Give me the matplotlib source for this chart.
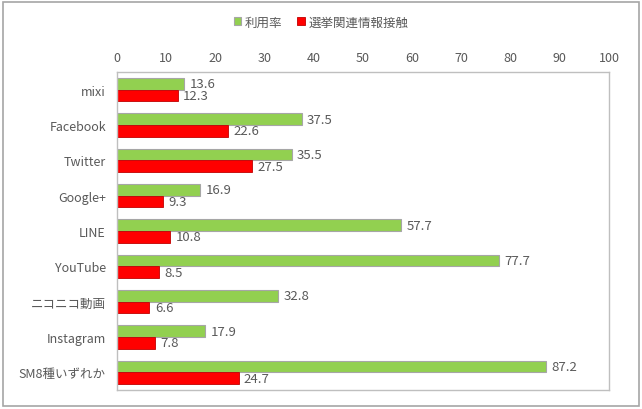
import matplotlib.pyplot as plt
import numpy as np
from matplotlib.patches import Rectangle

plt.rcParams['font.family'] = ['Noto Sans CJK JP', 'DejaVu Sans']

categories = ["mixi", "Facebook", "Twitter", "Google+", "LINE", "YouTube",
              "ニコニコ動画", "Instagram", "SM8種いずれか"]
usage_rate = [13.6, 37.5, 35.5, 16.9, 57.7, 77.7, 32.8, 17.9, 87.2]
election_contact = [12.3, 22.6, 27.5, 9.3, 10.8, 8.5, 6.6, 7.8, 24.7]
series_labels = ["利用率", "選挙関連情報接触"]

GREEN = "#92D050"
RED = "#FF0000"
TEXT = "#595959"
FRAME = "#BFBFBF"

fig = plt.figure(figsize=(6.42, 4.10), dpi=100)
ax = fig.add_axes([117 / 642, 1 - 391 / 410, (609 - 117) / 642, (391 - 73) / 410])

y = np.arange(len(categories))
h = 0.33
bars_g = ax.barh(y - h / 2, usage_rate, height=h, color=GREEN,
                 edgecolor="#A6A6A6", linewidth=0.8, label=series_labels[0])
bars_r = ax.barh(y + h / 2, election_contact, height=h, color=RED,
                 edgecolor="#C00000", linewidth=0.6, label=series_labels[1])

for bars, vals in ((bars_g, usage_rate), (bars_r, election_contact)):
    for b, v in zip(bars, vals):
        ax.text(v + 1.1, b.get_y() + b.get_height() / 2, f"{v:.1f}",
                va="center", ha="left", fontsize=9.5, color=TEXT)

ax.set_xlim(0, 100)
ax.set_xticks(np.arange(0, 101, 10))
ax.set_ylim(len(categories) - 0.5, -0.5)
ax.set_yticks(y)
ax.set_yticklabels(categories)
ax.xaxis.tick_top()
ax.tick_params(axis="x", length=0, pad=6, labelsize=9, labelcolor=TEXT)
ax.tick_params(axis="y", length=0, pad=8, labelsize=9, labelcolor=TEXT)
for s in ax.spines.values():
    s.set_color(FRAME)
    s.set_linewidth(1.0)

fig.legend(handles=[bars_g, bars_r], labels=series_labels, loc="center",
           bbox_to_anchor=(0.5, 1 - 23 / 410), ncol=2, frameon=False,
           fontsize=9, labelcolor=TEXT, handlelength=0.6, handleheight=0.6,
           handletextpad=0.3, columnspacing=1.2)

fig.patches.append(Rectangle((3 / 642, 3 / 410), 1 - 6 / 642, 1 - 6 / 410,
                             transform=fig.transFigure, fill=False,
                             edgecolor="#A6A6A6", linewidth=1.2))

fig.savefig("out.png", dpi=100)
